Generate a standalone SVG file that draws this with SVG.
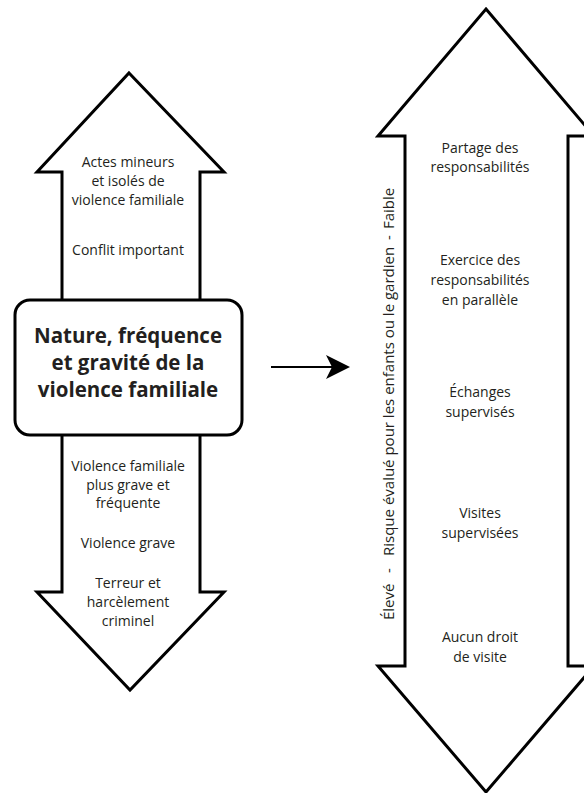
<svg xmlns="http://www.w3.org/2000/svg" width="584" height="793" viewBox="0 0 584 793">
<style>
.arrow{fill:#fff;stroke:#000;stroke-width:3;stroke-linejoin:miter;stroke-miterlimit:10}
.box{fill:#fff;stroke:#000;stroke-width:3}
text{font-family:"Open Sans","Liberation Sans",sans-serif;fill:#231f20}
.t{font-size:14px;text-anchor:middle}
.b{font-size:20.5px;font-weight:bold;text-anchor:middle}
.r{font-size:15px}
.conn{stroke:#000;stroke-width:2;fill:none}
</style>
<rect width="584" height="793" fill="#fff"/>
<g id="left-arrow">
<polygon class="arrow" points="129,73 224,172 200,172 200,592 224,592 130,690 37,592 62,592 62,172 37,172"/>
<text class="t" x="128" y="167">Actes mineurs</text>
<text class="t" x="128" y="186">et isolés de</text>
<text class="t" x="128" y="205">violence familiale</text>
<text class="t" x="128" y="255">Conflit important</text>
<text class="t" x="128" y="471">Violence familiale</text>
<text class="t" x="128" y="490">plus grave et</text>
<text class="t" x="128" y="508">fréquente</text>
<text class="t" x="128" y="548">Violence grave</text>
<text class="t" x="128" y="588">Terreur et</text>
<text class="t" x="128" y="607">harcèlement</text>
<text class="t" x="128" y="626">criminel</text>
</g>
<g id="center-box">
<rect class="box" x="15" y="300" width="227" height="135" rx="15" ry="15"/>
<text class="b" x="128" y="343">Nature, fréquence</text>
<text class="b" x="128" y="370">et gravité de la</text>
<text class="b" x="128" y="397">violence familiale</text>
</g>
<g id="connectors">
<line class="conn" x1="271" y1="367" x2="333" y2="367"/>
<polygon points="350,367 326,355 332,367 326,379" fill="#000"/>
</g>
<g id="right-arrow">
<polygon class="arrow" points="486,9 594,136 568,136 568,666 594,666 486,792 378,666 405,666 405,136 378,136"/>
<text class="t" x="480" y="153">Partage des</text>
<text class="t" x="480" y="172">responsabilités</text>
<text class="t" x="480" y="265">Exercice des</text>
<text class="t" x="480" y="285">responsabilités</text>
<text class="t" x="480" y="305">en parallèle</text>
<text class="t" x="480" y="397">Échanges</text>
<text class="t" x="480" y="417">supervisés</text>
<text class="t" x="480" y="518">Visites</text>
<text class="t" x="480" y="538">supervisées</text>
<text class="t" x="480" y="642">Aucun droit</text>
<text class="t" x="480" y="662">de visite</text>
</g>
<g id="risk-label">
<text class="r" transform="translate(394,620) rotate(-90)">Élevé</text>
<text class="r" transform="translate(394,573) rotate(-90)">-</text>
<text class="r" transform="translate(394,556) rotate(-90)">Risque évalué pour les enfants ou le gardien</text>
<text class="r" transform="translate(394,240) rotate(-90)">-</text>
<text class="r" transform="translate(394,229) rotate(-90)">Faible</text>
</g>
</svg>
